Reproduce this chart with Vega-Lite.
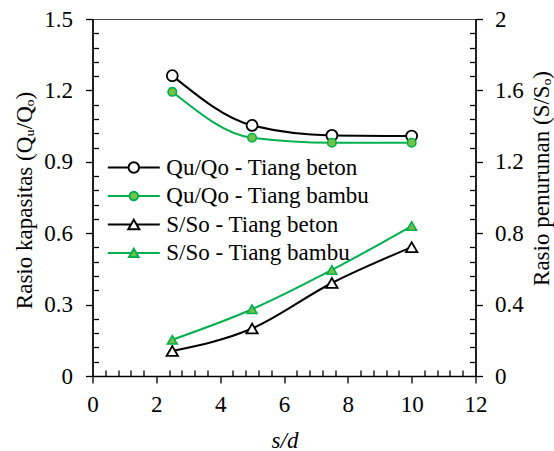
{
  "$schema": "https://vega.github.io/schema/vega-lite/v6.json",
  "width": 383,
  "height": 357,
  "autosize": {"type": "none"},
  "padding": {"left": 92.5, "top": 19, "right": 78.5, "bottom": 75},
  "background": "white",
  "config": {
    "font": "Times New Roman, Liberation Serif, serif",
    "view": {"stroke": "#444444", "strokeWidth": 1},
    "axis": {
      "grid": false,
      "domainColor": "black",
      "domainWidth": 1.6,
      "tickColor": "black",
      "tickWidth": 1.3,
      "labelFont": "Times New Roman, Liberation Serif, serif",
      "labelFontSize": 23,
      "labelColor": "black",
      "labelFlush": false,
      "labelOverlap": false,
      "titleFont": "Times New Roman, Liberation Serif, serif",
      "titleFontSize": 23,
      "titleFontWeight": "normal",
      "titleColor": "black"
    },
    "legend": {"labelFont": "Times New Roman, Liberation Serif, serif"}
  },
  "data": {
    "values": [
      {"sd": 2.5, "series": "Qu/Qo - Tiang beton", "v": 1.262},
      {"sd": 5, "series": "Qu/Qo - Tiang beton", "v": 1.053},
      {"sd": 7.5, "series": "Qu/Qo - Tiang beton", "v": 1.011},
      {"sd": 10, "series": "Qu/Qo - Tiang beton", "v": 1.008},
      {"sd": 2.5, "series": "Qu/Qo - Tiang bambu", "v": 1.194},
      {"sd": 5, "series": "Qu/Qo - Tiang bambu", "v": 1.001},
      {"sd": 7.5, "series": "Qu/Qo - Tiang bambu", "v": 0.98},
      {"sd": 10, "series": "Qu/Qo - Tiang bambu", "v": 0.98},
      {"sd": 2.5, "series": "S/So - Tiang beton", "v": 0.14},
      {"sd": 5, "series": "S/So - Tiang beton", "v": 0.266},
      {"sd": 7.5, "series": "S/So - Tiang beton", "v": 0.521},
      {"sd": 10, "series": "S/So - Tiang beton", "v": 0.722},
      {"sd": 2.5, "series": "S/So - Tiang bambu", "v": 0.203},
      {"sd": 5, "series": "S/So - Tiang bambu", "v": 0.374},
      {"sd": 7.5, "series": "S/So - Tiang bambu", "v": 0.594},
      {"sd": 10, "series": "S/So - Tiang bambu", "v": 0.84}
    ]
  },
  "layer": [
    {
      "transform": [{"filter": {"field": "series", "equal": "Qu/Qo - Tiang beton"}}],
      "mark": {"type": "line", "interpolate": "monotone", "strokeWidth": 2, "color": "black"},
      "encoding": {
        "x": {
          "field": "sd", "type": "quantitative",
          "scale": {"domain": [0, 12], "nice": false},
          "axis": {
            "orient": "bottom",
            "values": [0, 2, 4, 6, 8, 10, 12],
            "tickSize": 7,
            "labelFontSize": 23,
            "labelPadding": 10.5,
            "title": "s/d",
            "titleFontSize": 23,
            "titleFontStyle": "italic",
            "titleX": 192,
            "titleY": 71,
            "titleAlign": "center",
            "titleBaseline": "alphabetic"
          }
        },
        "y": {
          "field": "v", "type": "quantitative",
          "scale": {"domain": [0, 1.5], "nice": false},
          "axis": {
            "orient": "left",
            "values": [0, 0.3, 0.6, 0.9, 1.2, 1.5],
            "labelExpr": "'' + datum.value",
            "tickSize": 7,
            "labelFontSize": 23,
            "labelPadding": 13,
            "title": "Rasio kapasitas (Qᵤ/Qₒ)",
            "titleFontSize": 23,
            "titleAngle": -90,
            "titleX": -67.7,
            "titleY": 181,
            "titleAlign": "center",
            "titleBaseline": "middle"
          }
        }
      }
    },
    {
      "transform": [{"filter": {"field": "series", "equal": "Qu/Qo - Tiang bambu"}}],
      "mark": {"type": "line", "interpolate": "monotone", "strokeWidth": 2, "color": "#00b04f"},
      "encoding": {
        "x": {"field": "sd", "type": "quantitative", "axis": null},
        "y": {"field": "v", "type": "quantitative", "scale": {"domain": [0, 1.5], "nice": false}, "axis": null}
      }
    },
    {
      "transform": [{"filter": {"field": "series", "equal": "S/So - Tiang beton"}}],
      "mark": {"type": "line", "interpolate": "monotone", "strokeWidth": 2, "color": "black"},
      "encoding": {
        "x": {"field": "sd", "type": "quantitative", "axis": null},
        "y": {
          "field": "v", "type": "quantitative",
          "scale": {"domain": [0, 2], "nice": false},
          "axis": {
            "orient": "right",
            "values": [0, 0.4, 0.8, 1.2, 1.6, 2],
            "labelExpr": "'' + datum.value",
            "tickSize": 7,
            "labelFontSize": 23,
            "labelPadding": 12,
            "title": "Rasio penurunan (S/Sₒ)",
            "titleFontSize": 23,
            "titleAngle": -90,
            "titleX": 66,
            "titleY": 159,
            "titleAlign": "center",
            "titleBaseline": "middle"
          }
        }
      }
    },
    {
      "transform": [{"filter": {"field": "series", "equal": "S/So - Tiang bambu"}}],
      "mark": {"type": "line", "interpolate": "monotone", "strokeWidth": 2, "color": "#00b04f"},
      "encoding": {
        "x": {"field": "sd", "type": "quantitative", "axis": null},
        "y": {
          "field": "v", "type": "quantitative",
          "scale": {"domain": [0, 2], "nice": false},
          "axis": {"orient": "right", "values": [0.08, 0.16, 0.24, 0.32, 0.48, 0.56, 0.64, 0.72, 0.88, 0.96, 1.04, 1.12, 1.28, 1.36, 1.44, 1.52, 1.68, 1.76, 1.84, 1.92], "tickSize": -6, "labels": false, "domain": false, "title": null}
        }
      }
    },
    {
      "transform": [{"filter": {"field": "series", "equal": "Qu/Qo - Tiang beton"}}],
      "mark": {"type": "point", "shape": "circle", "size": 120, "strokeWidth": 1.8, "stroke": "black", "fill": "white", "opacity": 1, "fillOpacity": 1},
      "encoding": {
        "x": {"field": "sd", "type": "quantitative", "axis": null},
        "y": {"field": "v", "type": "quantitative", "scale": {"domain": [0, 1.5], "nice": false}, "axis": null}
      }
    },
    {
      "transform": [{"filter": {"field": "series", "equal": "Qu/Qo - Tiang bambu"}}],
      "mark": {"type": "point", "shape": "circle", "size": 72, "strokeWidth": 1.6, "stroke": "#00b04f", "fill": "#74c244", "opacity": 1, "fillOpacity": 1},
      "encoding": {
        "x": {"field": "sd", "type": "quantitative", "axis": null},
        "y": {"field": "v", "type": "quantitative", "scale": {"domain": [0, 1.5], "nice": false}, "axis": null}
      }
    },
    {
      "transform": [{"filter": {"field": "series", "equal": "S/So - Tiang beton"}}],
      "mark": {"type": "point", "shape": "triangle-up", "size": 130, "strokeWidth": 1.8, "stroke": "black", "fill": "white", "opacity": 1, "fillOpacity": 1},
      "encoding": {
        "x": {"field": "sd", "type": "quantitative", "axis": null},
        "y": {"field": "v", "type": "quantitative", "scale": {"domain": [0, 2], "nice": false}, "axis": null}
      }
    },
    {
      "transform": [{"filter": {"field": "series", "equal": "S/So - Tiang bambu"}}],
      "mark": {"type": "point", "shape": "triangle-up", "size": 95, "strokeWidth": 1.6, "stroke": "#00b04f", "fill": "#74c244", "opacity": 1, "fillOpacity": 1},
      "encoding": {
        "x": {"field": "sd", "type": "quantitative", "axis": null},
        "y": {"field": "v", "type": "quantitative", "scale": {"domain": [0, 2], "nice": false}, "axis": null}
      }
    },
    {
      "transform": [{"filter": "datum.sd < 0"}],
      "mark": {"type": "point", "size": 100, "strokeWidth": 2, "opacity": 1, "fillOpacity": 1},
      "encoding": {
        "x": {
          "field": "sd", "type": "quantitative",
          "axis": {"orient": "bottom", "values": [0.4, 0.8, 1.2, 1.6, 2.4, 2.8, 3.2, 3.6, 4.4, 4.8, 5.2, 5.6, 6.4, 6.8, 7.2, 7.6, 8.4, 8.8, 9.2, 9.6, 10.4, 10.8, 11.2, 11.6], "tickSize": -6, "labels": false, "domain": false, "title": null}
        },
        "y": {
          "field": "v", "type": "quantitative",
          "scale": {"domain": [0, 1.5], "nice": false},
          "axis": {"orient": "left", "values": [0.06, 0.12, 0.18, 0.24, 0.36, 0.42, 0.48, 0.54, 0.66, 0.72, 0.78, 0.84, 0.96, 1.02, 1.08, 1.14, 1.26, 1.32, 1.38, 1.44], "tickSize": -6, "labels": false, "domain": false, "title": null}
        },
        "stroke": {
          "field": "series", "type": "nominal",
          "scale": {"domain": ["Qu/Qo - Tiang beton", "Qu/Qo - Tiang bambu", "S/So - Tiang beton", "S/So - Tiang bambu"], "range": ["black", "#00b04f", "black", "#00b04f"]},
          "legend": {"orient": "none", "legendX": 29.8, "legendY": 137, "title": null, "labelFont": "Times New Roman, Liberation Serif, serif", "labelFontSize": 23, "labelColor": "black", "symbolSize": 100, "symbolStrokeWidth": 2, "labelOffset": 21, "rowPadding": 4.5, "padding": 0, "symbolOffset": 0, "labelLimit": 400}
        },
        "fill": {
          "field": "series", "type": "nominal",
          "scale": {"domain": ["Qu/Qo - Tiang beton", "Qu/Qo - Tiang bambu", "S/So - Tiang beton", "S/So - Tiang bambu"], "range": ["white", "#74c244", "white", "#74c244"]},
          "legend": {"orient": "none", "legendX": 29.8, "legendY": 137, "title": null, "labelFont": "Times New Roman, Liberation Serif, serif", "labelFontSize": 23, "labelColor": "black", "symbolSize": 100, "symbolStrokeWidth": 2, "labelOffset": 21, "rowPadding": 4.5, "padding": 0, "symbolOffset": 0, "labelLimit": 400}
        },
        "shape": {
          "field": "series", "type": "nominal",
          "scale": {
            "domain": ["Qu/Qo - Tiang beton", "Qu/Qo - Tiang bambu", "S/So - Tiang beton", "S/So - Tiang bambu"],
            "range": [
              "M-5.2,0L-1.05,0M1.05,0L5.2,0M-1.05,0A1.05,1.05,0,1,0,1.05,0A1.05,1.05,0,1,0,-1.05,0Z",
              "M-5.2,0L-0.85,0M0.85,0L5.2,0M-0.85,0A0.85,0.85,0,1,0,0.85,0A0.85,0.85,0,1,0,-0.85,0Z",
              "M-5.2,0L-0.55,0M0.55,0L5.2,0M0,-0.95L1.1,0.95L-1.1,0.95Z",
              "M-5.2,0L-0.5,0M0.5,0L5.2,0M0,-0.85L0.95,0.8L-0.95,0.8Z"
            ]
          },
          "legend": {"orient": "none", "legendX": 29.8, "legendY": 137, "title": null, "labelFont": "Times New Roman, Liberation Serif, serif", "labelFontSize": 23, "labelColor": "black", "symbolSize": 100, "symbolStrokeWidth": 2, "labelOffset": 21, "rowPadding": 4.5, "padding": 0, "symbolOffset": 0, "labelLimit": 400}
        }
      }
    }
  ],
  "resolve": {"scale": {"y": "independent"}, "axis": {"x": "independent", "y": "independent"}}
}
